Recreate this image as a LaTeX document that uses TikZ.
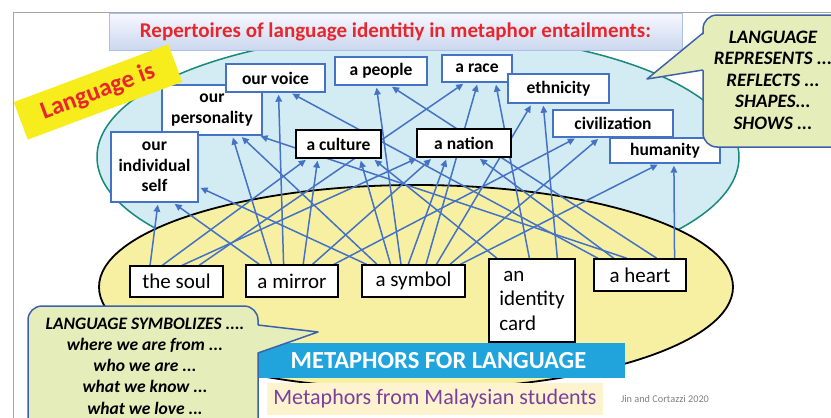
\documentclass[tikz,border=0pt]{standalone}
\usepackage{fontspec}
\setmainfont{Carlito}
\usepackage{tikz}
\usetikzlibrary{arrows.meta,positioning,calc}
\definecolor{lnkblue}{HTML}{4472C4}
\definecolor{skyfill}{HTML}{D3EBF3}
\definecolor{skyedge}{HTML}{16897B}
\definecolor{sandfill}{HTML}{F7F0A3}
\definecolor{bubblefill}{HTML}{E5EDBB}
\definecolor{bubbleedge}{HTML}{3D62A9}
\definecolor{bannerblue}{HTML}{21A4DC}
\definecolor{notefill}{HTML}{FDF3CF}
\definecolor{notepurple}{HTML}{7B3F9E}
\definecolor{titlered}{HTML}{E8262D}
\definecolor{flagyellow}{HTML}{F7EC1C}
\pgfdeclarelayer{bg}
\pgfdeclarelayer{wires}
\pgfsetlayers{bg,wires,main}

\begin{document}
\begin{tikzpicture}[
  x=1pt, y=-1pt,
  idbox/.style={draw=lnkblue, line width=1.4pt, fill=white, align=center, inner sep=2pt,
    font=\fontsize{17.5}{20.5}\selectfont\bfseries},
  keybox/.style={idbox, draw=black},
  metbox/.style={draw=black, line width=1.4pt, fill=white, inner sep=2pt,
    font=\fontsize{21}{24.5}\selectfont},
  lnk/.style={draw=lnkblue, line width=1.5pt, -{Triangle[length=7pt,width=6.5pt]}, shorten >=2pt},
  bubble/.style={draw=bubbleedge, line width=1.5pt, fill=bubblefill, rounded corners=14pt},
  talk/.style={align=center, inner sep=0pt, font=\fontsize{19}{21.5}\selectfont\bfseries\itshape}
]
\useasboundingbox (0,0) rectangle (831,418);
\clip (0,0) rectangle (831,418);

\begin{pgfonlayer}{bg}
\draw[skyedge, fill=skyfill, line width=1.5pt] (418,157) ellipse [x radius=321pt, y radius=124pt];
\draw[black, fill=sandfill, line width=1.8pt] (416,287) ellipse [x radius=317pt, y radius=102pt];
\end{pgfonlayer}

\draw[gray!70, line width=0.8pt] (13,425) -- (13,12) -- (840,12);

\node[idbox, minimum width=100pt, minimum height=50pt] (personality) at (212,110) {our\\personality};
\node[idbox, minimum width=87pt, minimum height=70pt] (self) at (154.5,167) {our\\individual\\self};
\node[idbox, minimum width=99pt, minimum height=28pt] (voice) at (275.5,78) {our voice};
\node[idbox, minimum width=92pt, minimum height=28pt] (people) at (381,71) {a people};
\node[idbox, minimum width=70pt, minimum height=27pt] (race) at (477,68.5) {a race};
\node[idbox, minimum width=101pt, minimum height=29pt] (ethnicity) at (558.5,88.5) {ethnicity};
\node[idbox, minimum width=120pt, minimum height=27pt] (civilization) at (613,123.5) {civilization};
\node[idbox, minimum width=110pt, minimum height=25pt] (humanity) at (665,150.5) {humanity};
\node[keybox, minimum width=85pt, minimum height=28pt] (culture) at (338.5,144) {a culture};
\node[keybox, minimum width=94pt, minimum height=28pt] (nation) at (464,143) {a nation};

\node[metbox, minimum width=93pt, minimum height=31pt] (soul) at (176.5,281.5) {the soul};
\node[metbox, minimum width=92pt, minimum height=32pt] (mirror) at (292,281) {a mirror};
\node[metbox, minimum width=103pt, minimum height=32pt] (symbol) at (413.5,281) {a symbol};
\node[metbox, minimum width=86pt, minimum height=83pt, align=left] (card) at (532,300.5) {\hspace{4pt}an\\identity\\card};
\node[metbox, minimum width=92pt, minimum height=32pt] (heart) at (640,275) {a heart};

\begin{pgfonlayer}{wires}
\foreach \a/\p/\b/\q in {soul/0.22/self/0.54, soul/0.35/culture/0.14, soul/0.56/nation/0.02,
    soul/0.74/race/0.33, mirror/0.15/self/0.71, mirror/0.28/personality/0.70,
    mirror/0.41/voice/0.53, mirror/0.62/culture/0.26, mirror/0.72/nation/0.17,
    mirror/0.95/civilization/0.2, symbol/0.15/personality/0.78, symbol/0.28/culture/0.75,
    symbol/0.38/people/0.45, symbol/0.45/nation/0.32, symbol/0.62/race/0.51,
    symbol/0.72/ethnicity/0.24, symbol/0.85/civilization/0.39, symbol/0.95/humanity/0.45,
    card/0.1/culture/0.9, card/0.47/race/0.76, card/0.79/ethnicity/0.35,
    heart/0.05/voice/0.65, heart/0.22/nation/0.65, heart/0.36/personality/0.96,
    heart/0.68/people/0.60, heart/0.87/humanity/0.58}
  \draw[lnk] ($(\a.north west)!\p!(\a.north east)$) -- ($(\b.south west)!\q!(\b.south east)$);
\draw[lnk] ($(symbol.north west)!0.05!(symbol.north east)$) -- ($(self.south east)!0.22!(self.north east)$);
\end{pgfonlayer}

\node[draw=lnkblue!45, line width=1pt, top color=blue!3, bottom color=lnkblue!28,
  minimum width=573pt, minimum height=37pt, text=titlered,
  font=\fontsize{21}{24}\selectfont\bfseries] (title) at (395.5,31.5)
  {Repertoires of language identitiy in metaphor entailments:};

\node[fill=flagyellow, rotate=20.5, minimum width=165pt, minimum height=40pt, text=titlered,
  font=\fontsize{25}{28}\selectfont\bfseries] (flag) at (98,92) {Language is};

\draw[bubble] (703,15) rectangle (850,147);
\fill[bubblefill] (705,33) -- (647,79) -- (705,70) -- cycle;
\draw[bubbleedge, line width=1.5pt, line join=round] (703,33) -- (647,79) -- (703,70);
\node[talk] (represents) at (773,80) {LANGUAGE\\REPRESENTS ...\\REFLECTS ...\\SHAPES...\\SHOWS ...};

\node[fill=bannerblue, minimum width=385pt, minimum height=35pt, text=white,
  font=\fontsize{24.5}{28}\selectfont\bfseries] (banner) at (432.5,360.5) {\hspace{12pt}METAPHORS FOR LANGUAGE};
\node[fill=notefill, minimum width=336pt, minimum height=32pt, text=notepurple,
  font=\fontsize{22}{25}\selectfont] (source) at (435,399) {Metaphors from Malaysian students};
\node[text=gray, font=\fontsize{10.3}{12}\selectfont] (credit) at (665,399) {Jin and Cortazzi 2020};

\draw[bubble] (28,306) rectangle (258,440);
\fill[bubblefill] (256,325) -- (318,332) -- (256,353) -- cycle;
\draw[bubbleedge, line width=1.5pt, line join=round] (258,325) -- (318,332) -- (258,353);
\node[talk, font=\fontsize{17.5}{21.3}\selectfont\bfseries\itshape] (symbolizes) at (145,366)
  {LANGUAGE SYMBOLIZES ....\\where we are from ...\\who we are ...\\what we know ...\\what we love ...};
\end{tikzpicture}
\end{document}
